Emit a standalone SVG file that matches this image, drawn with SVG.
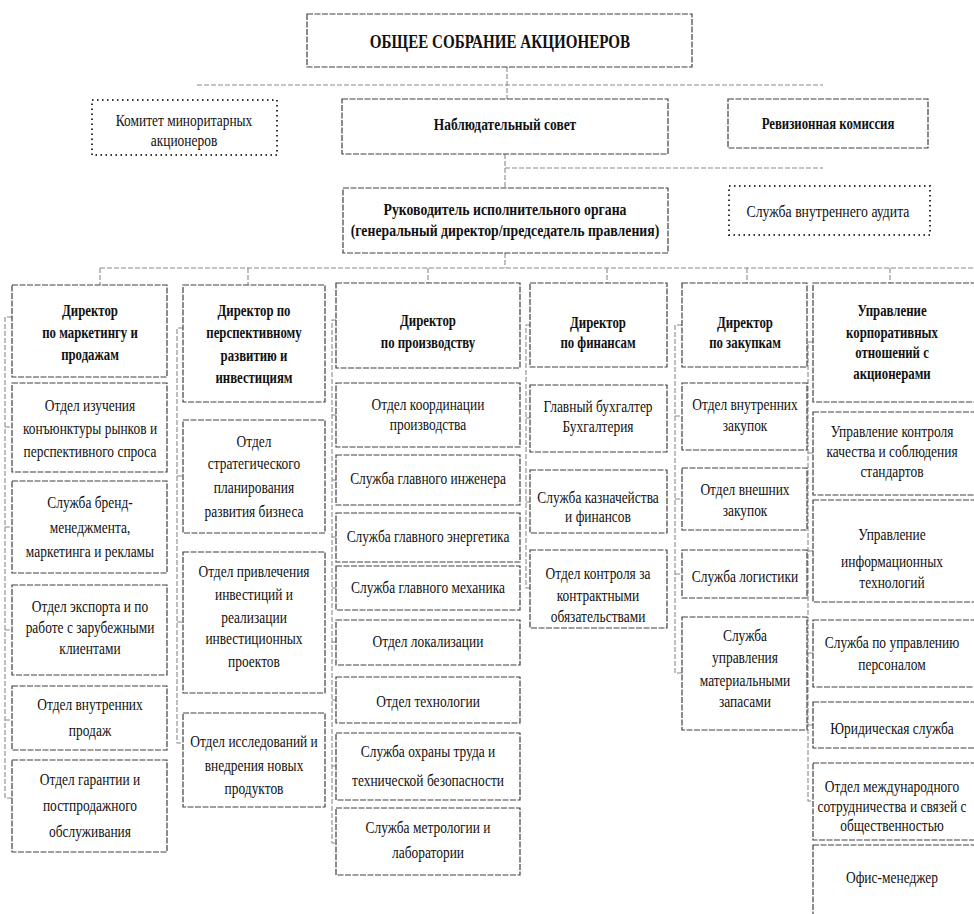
<svg xmlns="http://www.w3.org/2000/svg" width="974" height="914" viewBox="0 0 974 914">
<style>
.box{fill:#fff;stroke:#404040;stroke-width:1.2;stroke-dasharray:6 1.5}
.dot{fill:#fff;stroke:#333;stroke-width:2;stroke-dasharray:1.5 3.5}
.conn{fill:none;stroke:#8a8a8a;stroke-width:1.1;stroke-dasharray:5 2}
text{font-family:"Liberation Serif","Times New Roman",serif;font-size:16px;fill:#111;text-anchor:middle;dominant-baseline:central}
.b{font-weight:bold}
.h{font-weight:bold;font-size:18px}
</style>
<rect width="974" height="914" fill="#fff"/>
<g id="connectors">
<path class="conn" d="M507 67V99M197 85H823M505 154V188M505 168H823M505 253V268M100 268H974"/>
<path class="conn" d="M100 268V285M248 268V285M428 268V283M607 268V283M747 268V283M890 268V283"/>
<path class="conn" d="M12 317H5V798H12M5 427H12M5 527H12M5 630H12M5 720H12"/>
<path class="conn" d="M183 328H177V743H183M177 476H183M177 622H183"/>
<path class="conn" d="M336 320H332V843H336M332 415H336M332 480H336M332 537H336M332 588H336M332 642H336M332 700H336M332 766H336"/>
<path class="conn" d="M530 325H526V588H530M526 418H530M526 502H530"/>
<path class="conn" d="M682 325H675V673H682M675 416H682M675 499H682M675 574H682"/>
<path class="conn" d="M813 342H808V801H813M808 453H813M808 551H813M808 653H813M808 725H813"/>
</g>
<g id="n-top"><rect class="box" x="307" y="14" width="385" height="53"/><g transform="translate(500 0) scale(.84 1)"><text class="h" y="42">ОБЩЕЕ СОБРАНИЕ АКЦИОНЕРОВ</text></g></g>
<g id="n-komitet"><rect class="dot" x="92" y="100" width="185" height="55"/><g transform="translate(184 0) scale(.84 1)"><text y="121">Комитет миноритарных</text><text y="141">акционеров</text></g></g>
<g id="n-nabl"><rect class="box" x="342" y="99" width="326" height="55"/><g transform="translate(505 0) scale(.84 1)"><text class="b" y="125">Наблюдательный совет</text></g></g>
<g id="n-reviz"><rect class="box" x="728" y="99" width="200" height="49"/><g transform="translate(828 0) scale(.8 1)"><text class="b" y="123">Ревизионная комиссия</text></g></g>
<g id="n-ruk"><rect class="box" x="343" y="188" width="325" height="65"/><g transform="translate(505 0) scale(.86 1)"><text class="b" y="210">Руководитель исполнительного органа</text><text class="b" y="231">(генеральный директор/председатель правления)</text></g></g>
<g id="n-audit"><rect class="dot" x="729" y="186" width="201" height="49"/><g transform="translate(828 0) scale(.86 1)"><text y="212">Служба внутреннего аудита</text></g></g>

<g id="n-d1"><rect class="box" x="12" y="285" width="155" height="92"/><g transform="translate(90 0) scale(.8 1)"><text class="b" y="310">Директор</text><text class="b" y="332">по маркетингу и</text><text class="b" y="354">продажам</text></g></g>
<g id="n-c1a"><rect class="box" x="12" y="383" width="155" height="89"/><g transform="translate(90 0) scale(.84 1)"><text y="406">Отдел изучения</text><text y="429">конъюнктуры рынков и</text><text y="452">перспективного спроса</text></g></g>
<g id="n-c1b"><rect class="box" x="12" y="481" width="155" height="92"/><g transform="translate(90 0) scale(.84 1)"><text y="503">Служба бренд-</text><text y="528">менеджмента,</text><text y="552">маркетинга и рекламы</text></g></g>
<g id="n-c1c"><rect class="box" x="12" y="585" width="155" height="90"/><g transform="translate(90 0) scale(.84 1)"><text y="607">Отдел экспорта и по</text><text y="628">работе с зарубежными</text><text y="649">клиентами</text></g></g>
<g id="n-c1d"><rect class="box" x="12" y="686" width="155" height="64"/><g transform="translate(90 0) scale(.84 1)"><text y="705">Отдел внутренних</text><text y="731">продаж</text></g></g>
<g id="n-c1e"><rect class="box" x="12" y="760" width="155" height="92"/><g transform="translate(90 0) scale(.84 1)"><text y="780">Отдел гарантии и</text><text y="806">постпродажного</text><text y="832">обслуживания</text></g></g>

<g id="n-d2"><rect class="box" x="183" y="285" width="142" height="117"/><g transform="translate(254 0) scale(.8 1)"><text class="b" y="310">Директор по</text><text class="b" y="332">перспективному</text><text class="b" y="355">развитию и</text><text class="b" y="377">инвестициям</text></g></g>
<g id="n-c2a"><rect class="box" x="183" y="420" width="142" height="113"/><g transform="translate(254 0) scale(.84 1)"><text y="442">Отдел</text><text y="464">стратегического</text><text y="488">планирования</text><text y="512">развития бизнеса</text></g></g>
<g id="n-c2b"><rect class="box" x="183" y="552" width="142" height="141"/><g transform="translate(254 0) scale(.84 1)"><text y="572">Отдел привлечения</text><text y="595">инвестиций и</text><text y="618">реализации</text><text y="639">инвестиционных</text><text y="662">проектов</text></g></g>
<g id="n-c2c"><rect class="box" x="183" y="713" width="142" height="94"/><g transform="translate(254 0) scale(.84 1)"><text y="742">Отдел исследований и</text><text y="766">внедрения новых</text><text y="789">продуктов</text></g></g>

<g id="n-d3"><rect class="box" x="336" y="283" width="184" height="85"/><g transform="translate(428 0) scale(.8 1)"><text class="b" y="320">Директор</text><text class="b" y="342">по производству</text></g></g>
<g id="n-c3a"><rect class="box" x="336" y="383" width="184" height="64"/><g transform="translate(428 0) scale(.84 1)"><text y="405">Отдел координации</text><text y="425">производства</text></g></g>
<g id="n-c3b"><rect class="box" x="336" y="455" width="184" height="50"/><g transform="translate(428 0) scale(.84 1)"><text y="479">Служба главного инженера</text></g></g>
<g id="n-c3c"><rect class="box" x="336" y="513" width="184" height="49"/><g transform="translate(428 0) scale(.84 1)"><text y="537">Служба главного энергетика</text></g></g>
<g id="n-c3d"><rect class="box" x="336" y="566" width="184" height="44"/><g transform="translate(428 0) scale(.84 1)"><text y="588">Служба главного механика</text></g></g>
<g id="n-c3e"><rect class="box" x="336" y="620" width="184" height="45"/><g transform="translate(428 0) scale(.84 1)"><text y="642">Отдел локализации</text></g></g>
<g id="n-c3f"><rect class="box" x="336" y="677" width="184" height="46"/><g transform="translate(428 0) scale(.84 1)"><text y="702">Отдел технологии</text></g></g>
<g id="n-c3g"><rect class="box" x="336" y="733" width="184" height="67"/><g transform="translate(428 0) scale(.84 1)"><text y="752">Служба охраны труда и</text><text y="781">технической безопасности</text></g></g>
<g id="n-c3h"><rect class="box" x="336" y="808" width="184" height="67"/><g transform="translate(428 0) scale(.84 1)"><text y="828">Служба метрологии и</text><text y="853">лаборатории</text></g></g>

<g id="n-d4"><rect class="box" x="530" y="283" width="137" height="84"/><g transform="translate(598 0) scale(.8 1)"><text class="b" y="322">Директор</text><text class="b" y="342">по финансам</text></g></g>
<g id="n-c4a"><rect class="box" x="530" y="385" width="137" height="67"/><g transform="translate(598 0) scale(.84 1)"><text y="407">Главный бухгалтер</text><text y="427">Бухгалтерия</text></g></g>
<g id="n-c4b"><rect class="box" x="530" y="470" width="137" height="63"/><g transform="translate(598 0) scale(.84 1)"><text y="498">Служба казначейства</text><text y="517">и финансов</text></g></g>
<g id="n-c4c"><rect class="box" x="530" y="550" width="137" height="78"/><g transform="translate(598 0) scale(.84 1)"><text y="574">Отдел контроля за</text><text y="596">контрактными</text><text y="617">обязательствами</text></g></g>

<g id="n-d5"><rect class="box" x="682" y="283" width="125" height="84"/><g transform="translate(745 0) scale(.8 1)"><text class="b" y="322">Директор</text><text class="b" y="342">по закупкам</text></g></g>
<g id="n-c5a"><rect class="box" x="682" y="383" width="125" height="67"/><g transform="translate(745 0) scale(.84 1)"><text y="405">Отдел внутренних</text><text y="426">закупок</text></g></g>
<g id="n-c5b"><rect class="box" x="682" y="468" width="125" height="62"/><g transform="translate(745 0) scale(.84 1)"><text y="490">Отдел внешних</text><text y="511">закупок</text></g></g>
<g id="n-c5c"><rect class="box" x="682" y="550" width="125" height="48"/><g transform="translate(745 0) scale(.84 1)"><text y="577">Служба логистики</text></g></g>
<g id="n-c5d"><rect class="box" x="682" y="617" width="125" height="113"/><g transform="translate(745 0) scale(.84 1)"><text y="636">Служба</text><text y="658">управления</text><text y="681">материальными</text><text y="702">запасами</text></g></g>

<g id="n-d6"><rect class="box" x="813" y="283" width="170" height="119"/><g transform="translate(892 0) scale(.8 1)"><text class="b" y="310">Управление</text><text class="b" y="332">корпоративных</text><text class="b" y="352">отношений с</text><text class="b" y="373">акционерами</text></g></g>
<g id="n-c6a"><rect class="box" x="813" y="412" width="170" height="83"/><g transform="translate(892 0) scale(.84 1)"><text y="432">Управление контроля</text><text y="452">качества и соблюдения</text><text y="472">стандартов</text></g></g>
<g id="n-c6b"><rect class="box" x="813" y="500" width="170" height="102"/><g transform="translate(892 0) scale(.84 1)"><text y="535">Управление</text><text y="562">информационных</text><text y="583">технологий</text></g></g>
<g id="n-c6c"><rect class="box" x="813" y="620" width="170" height="67"/><g transform="translate(892 0) scale(.84 1)"><text y="643">Служба по управлению</text><text y="665">персоналом</text></g></g>
<g id="n-c6d"><rect class="box" x="813" y="702" width="170" height="46"/><g transform="translate(892 0) scale(.84 1)"><text y="729">Юридическая служба</text></g></g>
<g id="n-c6e"><rect class="box" x="813" y="763" width="170" height="77"/><g transform="translate(892 0) scale(.84 1)"><text y="787">Отдел международного</text><text y="807">сотрудничества и связей с</text><text y="826">общественностью</text></g></g>
<g id="n-c6f"><rect class="box" x="813" y="845" width="170" height="80"/><g transform="translate(892 0) scale(.84 1)"><text y="878">Офис-менеджер</text></g></g>
</svg>
